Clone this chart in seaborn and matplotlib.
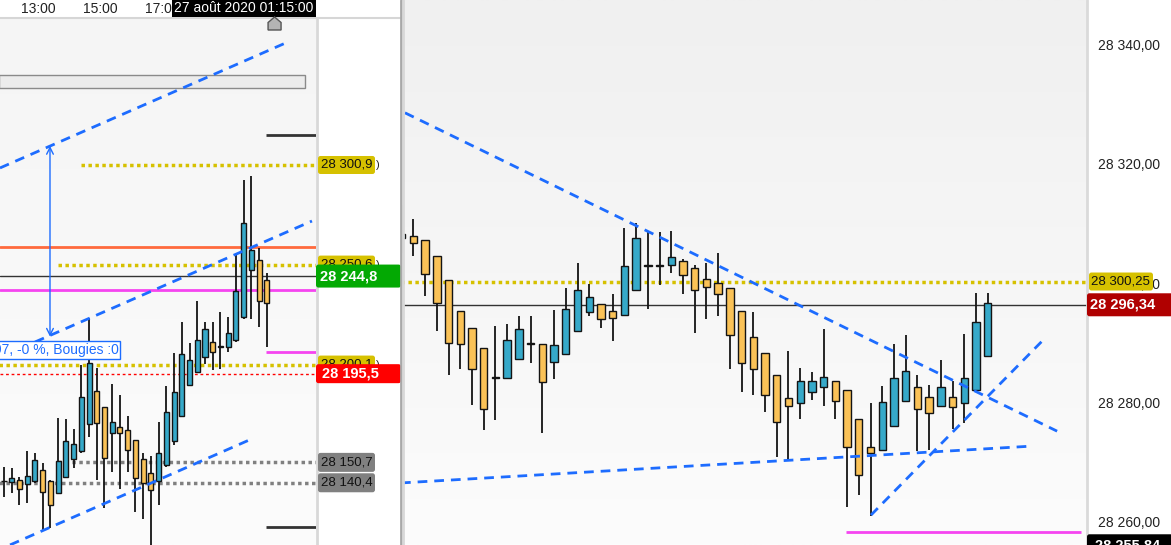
import numpy as np
import matplotlib
matplotlib.use("Agg")
import matplotlib.pyplot as plt
import seaborn as sns
from matplotlib.patches import FancyBboxPatch, Rectangle, Polygon
from matplotlib.transforms import IdentityTransform
from matplotlib.colors import LinearSegmentedColormap
from matplotlib.lines import Line2D

# ---------------- data : left pane (15 min candles) ----------------
L_open  = [28141.3, 28141.0, 28141.8, 28139.8, 28141.5, 28146.9, 28141.3, 28135.1, 28143.2, 28152.3,
           28156.2, 28169.9, 28186.8, 28178.9, 28165.4, 28168.8, 28167.1, 28162.0, 28152.4, 28145.5,
           28141.5, 28149.4, 28161.7, 28174.2, 28189.8, 28196.2, 28204.1, 28211.7, 28209.3, 28208.8,
           28212.5, 28224.3, 28247.9, 28252.9, 28242.8]
L_high  = [28148.6, 28147.7, 28143.5, 28156.2, 28155.3, 28150.3, 28141.8, 28173.0, 28172.5, 28167.4,
           28199.9, 28223.8, 28198.2, 28178.9, 28190.2, 28184.8, 28174.3, 28162.0, 28155.3, 28153.9,
           28171.0, 28189.3, 28205.8, 28221.8, 28211.2, 28232.4, 28221.8, 28221.5, 28226.4, 28224.0,
           28255.9, 28293.3, 28295.3, 28259.0, 28246.4]
L_low   = [28133.4, 28135.1, 28129.2, 28130.1, 28140.2, 28116.6, 28117.4, 28134.8, 28143.2, 28147.7,
           28155.3, 28163.7, 28141.8, 28127.5, 28146.0, 28137.1, 28146.0, 28125.8, 28122.0, 28109.0,
           28129.2, 28148.6, 28159.5, 28173.8, 28189.8, 28196.2, 28200.4, 28197.4, 28197.9, 28206.7,
           28211.5, 28223.0, 28223.1, 28219.2, 28209.0]
L_close = [28141.4, 28142.7, 28137.1, 28143.9, 28151.9, 28135.9, 28129.0, 28151.4, 28161.5, 28160.0,
           28183.9, 28200.8, 28170.5, 28152.8, 28171.0, 28165.4, 28156.7, 28142.7, 28140.2, 28136.8,
           28155.6, 28176.0, 28186.1, 28205.3, 28202.4, 28212.5, 28217.9, 28206.7, 28208.8, 28215.9,
           28237.3, 28271.6, 28258.0, 28232.4, 28231.4]
L_time_ticks = [4.5, 12.5, 20.5, 28.5]
L_time_labels = ["13:00", "15:00", "17:00", "19:00"]
L_cursor_label = "27 août 2020 01:15:00"

# ---------------- data : right pane ----------------
R_open  = [28307.5, 28307.9, 28307.3, 28304.5, 28300.5, 28295.3, 28292.5, 28289.0, 28284.2, 28284.0,
           28287.3, 28289.7, 28289.8, 28286.7, 28288.0, 28291.9, 28295.2, 28296.4, 28295.3, 28294.7,
           28298.8, 28303.1, 28303.0, 28303.0, 28303.7, 28302.5, 28300.6, 28300.0, 28299.1, 28295.3,
           28290.9, 28288.2, 28284.6, 28280.6, 28279.9, 28281.6, 28282.5, 28283.5, 28282.0, 28277.1,
           28272.5, 28271.9, 28275.9, 28280.1, 28282.6, 28280.8, 28279.4, 28280.9, 28279.9, 28282.1,
           28287.8]
R_high  = [28313.1, 28310.8, 28307.3, 28304.5, 28300.5, 28295.3, 28292.5, 28289.0, 28292.7, 28293.1,
           28294.5, 28294.5, 28289.8, 28295.5, 28299.2, 28303.4, 28299.8, 28296.4, 28298.2, 28309.3,
           28310.0, 28308.7, 28308.5, 28308.7, 28304.0, 28303.0, 28303.4, 28305.1, 28299.1, 28295.3,
           28295.1, 28288.2, 28284.6, 28288.6, 28285.7, 28285.0, 28292.2, 28283.5, 28282.0, 28277.1,
           28279.8, 28282.7, 28289.7, 28291.3, 28284.6, 28282.8, 28287.1, 28283.5, 28291.4, 28298.4,
           28298.4]
R_low   = [28305.0, 28304.6, 28297.8, 28292.0, 28284.5, 28285.5, 28279.5, 28275.3, 28277.0, 28284.0,
           28287.3, 28286.6, 28274.8, 28283.9, 28288.0, 28291.9, 28294.5, 28292.5, 28290.3, 28294.7,
           28298.8, 28295.7, 28299.7, 28301.6, 28298.2, 28291.6, 28294.0, 28294.5, 28285.6, 28281.7,
           28281.2, 28278.4, 28270.8, 28270.1, 28277.2, 28280.4, 28279.4, 28277.2, 28262.3, 28264.3,
           28260.9, 28271.9, 28275.9, 28280.1, 28271.7, 28271.9, 28279.4, 28275.4, 28276.4, 28282.1,
           28287.8]
R_close = [28308.2, 28306.8, 28301.5, 28296.6, 28290.0, 28289.7, 28285.5, 28278.8, 28284.0, 28290.5,
           28292.2, 28290.0, 28283.3, 28289.5, 28295.7, 28298.8, 28297.6, 28293.9, 28294.2, 28302.8,
           28307.5, 28302.8, 28302.9, 28304.3, 28301.3, 28298.9, 28299.3, 28298.1, 28291.2, 28286.5,
           28285.5, 28281.1, 28276.6, 28279.3, 28283.5, 28283.5, 28284.2, 28280.2, 28272.4, 28267.8,
           28271.4, 28280.0, 28284.1, 28285.2, 28278.8, 28278.1, 28282.5, 28279.1, 28284.1, 28293.5,
           28296.6]
R_ticks = [28260, 28280, 28300, 28320, 28340]

# drawn objects (trend lines: [x0, x1], [y0, y1] in candle index / price)
L_trend_up_x,  L_trend_up_y  = [-0.52, 37.0], [28299.4, 28363.5]
L_trend_mid_x, L_trend_mid_y = [4.01, 39.84], [28211.5, 28272.6]
L_trend_lo_x,  L_trend_lo_y  = [0.78, 32.25], [28109.0, 28162.9]
L_arrow_x, L_arrow_y = 5.95, [28214.2, 28310.5]
L_zone_x, L_zone_y = [-0.6, 38.94], [28339.8, 28346.4]
L_measure_text = "97, -0 %, Bougies :0"

L_yellow_levels = [28300.9, 28250.6, 28200.1]
L_yellow_start  = [9.96, 6.99, -1.0]
L_orange_level = 28259.5
L_last_price = 28244.8
L_magenta_level = 28237.8
L_magenta_short = 28206.5
L_red_level = 28195.5
L_grey_levels = [28150.7, 28140.4]
L_grey_start  = [7.0, -1.0]
L_dark_short = [28316.05, 28118.07]
L_short_start = 33.9
L_cursor_idx = 35

R_trend_a_x, R_trend_a_y = [0.28, 55.92], [28328.6, 28275.1]
R_trend_b_x, R_trend_b_y = [-0.06, 53.87], [28266.4, 28272.6]
R_trend_c_x, R_trend_c_y = [40.04, 54.97], [28261.0, 28290.9]
R_yellow_level = 28300.25
R_last_price = 28296.34
R_magenta_level, R_magenta_x = 28258.15, [37.9, 57.96]
R_bottom_label = 28255.84

# ---------------- style ----------------
sns.set_theme(style="white")
plt.rcParams["font.family"] = ["Liberation Sans", "DejaVu Sans"]

UP = "#36a9c9"
DN = "#fac257"
EDGE = "#141414"
TREND = "#1d6cff"
YEL = "#d6c100"
GREY = "#808080"
MAG = "#f545f0"
ORG = "#ff6a3d"

W, H = 1171, 545
fig = plt.figure(figsize=(W / 100, H / 100), dpi=100, facecolor="white")
axL = fig.add_axes([0, 0, 316 / W, (H - 18) / H])
axR = fig.add_axes([401 / W, 0, 686 / W, 1])
ID = IdentityTransform()


def gradient(ax, top, bottom):
    cmap = LinearSegmentedColormap.from_list("g", [bottom, top])
    ax.imshow(np.linspace(0, 1, 256).reshape(-1, 1), cmap=cmap, extent=[0, 1, 0, 1],
              transform=ax.transAxes, aspect="auto", origin="lower", zorder=0)


def candles(ax, o, h, l, c, width):
    o, h, l, c = map(np.asarray, (o, h, l, c))
    x = np.arange(len(o))
    ax.vlines(x, l, h, color=EDGE, lw=1.3, zorder=3)
    lo = np.minimum(o, c)
    hh = np.abs(c - o)
    cols = np.where(c > o, UP, DN)
    cols = np.where(hh < 0.35, EDGE, cols)
    ax.bar(x, hh, width, bottom=lo, color=cols, edgecolor=EDGE, linewidth=1, zorder=4)


def dashed(ax, xs, ys):
    ax.plot(xs, ys, color=TREND, lw=2, dashes=(3.5, 2.5), zorder=5)


gradient(axL, "#f5f5f5", "#fcfcfc")
gradient(axR, "#f0f0f0", "#fcfcfc")

candles(axL, L_open, L_high, L_low, L_close, 0.65)
candles(axR, R_open, R_high, R_low, R_close, 0.63)

# left pane objects
axL.add_patch(Rectangle((L_zone_x[0], L_zone_y[0]), L_zone_x[1] - L_zone_x[0], L_zone_y[1] - L_zone_y[0],
                        fc="#ececec", ec="#8a8a8a", lw=1, zorder=2))
for lv, st in zip(L_yellow_levels, L_yellow_start):
    axL.hlines(lv, st, 41, color=YEL, lw=2.5, linestyles=(0, (1, 1)), zorder=2)
axL.axhline(L_orange_level, color=ORG, lw=2, zorder=2)
axL.axhline(L_last_price, color="#333333", lw=1, zorder=2)
axL.axhline(L_magenta_level, color=MAG, lw=2, zorder=2)
axL.hlines(L_magenta_short, L_short_start, 41, color=MAG, lw=2, zorder=2)
axL.axhline(L_red_level, color="#ff0000", lw=1, linestyle=(0, (2, 2)), zorder=2)
for lv, st in zip(L_grey_levels, L_grey_start):
    axL.hlines(lv, st, 41, color=GREY, lw=2.5, linestyles=(0, (1, 1)), zorder=2)
for lv in L_dark_short:
    axL.hlines(lv, L_short_start, 41, color="#333333", lw=2, zorder=2)
dashed(axL, L_trend_up_x, L_trend_up_y)
dashed(axL, L_trend_mid_x, L_trend_mid_y)
dashed(axL, L_trend_lo_x, L_trend_lo_y)
axL.annotate("", xy=(L_arrow_x, L_arrow_y[1]), xytext=(L_arrow_x, L_arrow_y[0]),
             arrowprops=dict(arrowstyle="<->", color=TREND, lw=1, shrinkA=0, shrinkB=0,
                             mutation_scale=12), zorder=6)

# right pane objects
axR.axhline(R_yellow_level, color=YEL, lw=2.5, linestyle=(0, (1, 1)), zorder=2)
axR.axhline(R_last_price, color="#333333", lw=1, zorder=2)
axR.hlines(R_magenta_level, R_magenta_x[0], R_magenta_x[1], color=MAG, lw=2, zorder=2)
dashed(axR, R_trend_a_x, R_trend_a_y)
dashed(axR, R_trend_b_x, R_trend_b_y)
dashed(axR, R_trend_c_x, R_trend_c_y)

# axes ranges / ticks
axL.set_xlim(-0.517, 40.36)
axL.set_ylim(28108.97, 28375.14)
axR.set_xlim(-0.06, 58.47)
axR.set_ylim(28255.97, 28347.56)
for ax in (axL, axR):
    for s in ax.spines.values():
        s.set_visible(False)
    ax.set_xticks([])
axL.set_yticks([])
axR.yaxis.tick_right()
axR.set_yticks(R_ticks)
axR.set_yticklabels([f"{v:,}".replace(",", " ") + ",00" for v in R_ticks])
axR.tick_params(axis="y", length=0, pad=8, labelsize=10, labelcolor="#222222")


def fmt(v, d):
    s = f"{v:,.{d}f}".replace(",", " ").replace(".", ",")
    return s


def tag(ax, price, text, x0, x1, h, fc, tc, bold=False, fs=9.5, pad=3, tail=False, z=5):
    y = ax.transData.transform((0, price))[1]
    fig.add_artist(FancyBboxPatch((x0, y - h / 2), x1 - x0, h, boxstyle="round,pad=0,rounding_size=2.5",
                                  transform=ID, fc=fc, ec="none", zorder=z))
    fig.text(x0 + pad, y, text, transform=ID, ha="left", va="center", color=tc, fontsize=fs,
             fontweight="bold" if bold else "normal", zorder=z + 0.5)
    if tail:
        fig.text(x1 + 0.5, y, ")", transform=ID, ha="left", va="center", color="#222222",
                 fontsize=8, zorder=z + 0.5)


# left price tags
tag(axL, L_yellow_levels[0], fmt(L_yellow_levels[0], 1), 318, 375, 18, YEL, "#111111", tail=True)
tag(axL, L_yellow_levels[1], fmt(L_yellow_levels[1], 1), 318, 375, 18, YEL, "#111111", tail=True)
tag(axL, L_yellow_levels[2], fmt(L_yellow_levels[2], 1), 318, 375, 18, YEL, "#111111", tail=True)
tag(axL, L_last_price, fmt(L_last_price, 1), 316, 401, 23, "#03a903", "white", bold=True, fs=10.5, pad=4, z=7)
tag(axL, L_red_level, fmt(L_red_level, 1), 316, 401, 19, "#ff0000", "white", bold=True, fs=10.5, pad=6, z=7)
tag(axL, L_grey_levels[0], fmt(L_grey_levels[0], 1), 318, 375, 19, GREY, "#111111")
tag(axL, L_grey_levels[1], fmt(L_grey_levels[1], 1), 318, 375, 19, GREY, "#111111")

# right price tags
tag(axR, R_yellow_level, fmt(R_yellow_level, 2), 1089, 1153, 18, YEL, "#111111", fs=9.5, pad=2)
tag(axR, R_last_price, fmt(R_last_price, 2), 1087, 1173, 23, "#b00000", "white", bold=True, fs=10.5, pad=3, z=7)
tag(axR, R_bottom_label, fmt(R_bottom_label, 2), 1087, 1173, 23, "#000000", "white", bold=True, fs=10.5, pad=8, z=7)

# measure label box
yb = axL.transData.transform((0, L_arrow_y[0]))[1] - 4
fig.add_artist(Rectangle((-2, yb - 18), 122, 18, transform=ID, fc="white", ec=TREND, lw=1, zorder=8))
fig.text(118.5, yb - 9, L_measure_text, transform=ID, ha="right", va="center", color=TREND,
         fontsize=10, zorder=9)

# chrome: separators, time strip
fig.add_artist(Line2D([0, 401], [H - 17.5, H - 17.5], transform=ID, color="#d6d6d6", lw=1.5, zorder=3))
fig.add_artist(Line2D([316.5, 316.5], [0, H - 17.5], transform=ID, color="#d8d8d8", lw=2, zorder=3))
fig.add_artist(Line2D([400.5, 400.5], [0, H], transform=ID, color="#a8a8a8", lw=2, zorder=9))
fig.add_artist(Line2D([402.5, 402.5], [0, H], transform=ID, color="#d8d8d8", lw=2, zorder=9))
fig.add_artist(Line2D([1086.5, 1086.5], [0, H], transform=ID, color="#dadada", lw=2, zorder=3))

for t, lab in zip(L_time_ticks, L_time_labels):
    xd = axL.transData.transform((t, 0))[0]
    fig.text(xd, H - 9, lab, transform=ID, ha="center", va="center", color="#222222", fontsize=10, zorder=2)
fig.add_artist(Rectangle((172, H - 17), 144, 17, transform=ID, fc="black", ec="none", zorder=4))
fig.text(244, H - 8.5, L_cursor_label, transform=ID, ha="center", va="center", color="white",
         fontsize=10, zorder=5)
xc = axL.transData.transform((L_cursor_idx, 0))[0]
fig.add_artist(Polygon([(xc - 6.5, H - 30), (xc + 6.5, H - 30), (xc + 6.5, H - 22.5), (xc, H - 17),
                        (xc - 6.5, H - 22.5)], closed=True, transform=ID, fc="#b4b4b4", ec="#555555",
                       lw=1, zorder=6))

fig.savefig("out.png", dpi=100)
